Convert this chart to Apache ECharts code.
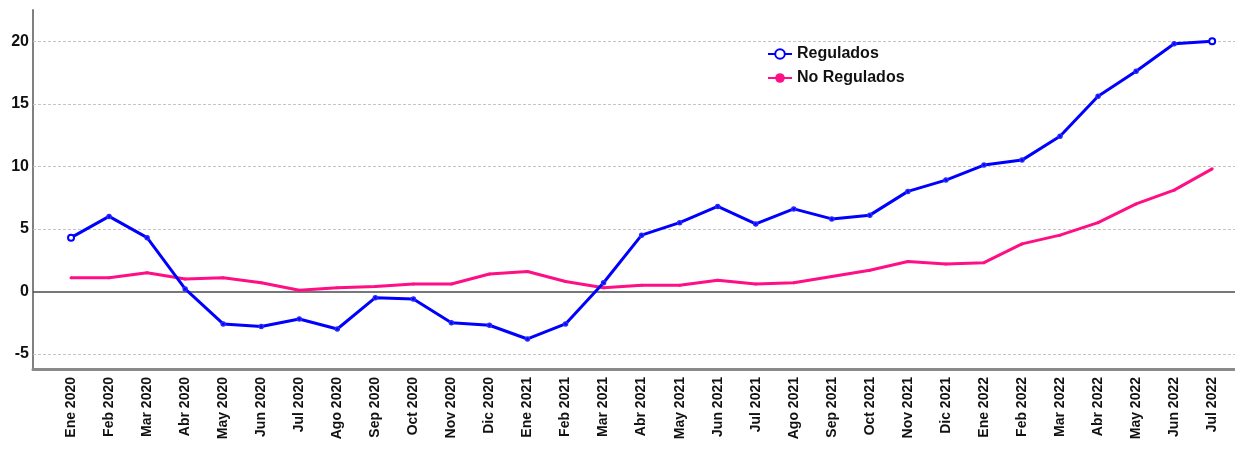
<!DOCTYPE html>
<html>
<head>
<meta charset="utf-8">
<script src="https://cdn.jsdelivr.net/npm/echarts@6/dist/echarts.min.js"></script>
<style>html,body{margin:0;padding:0;background:#fff;}#c{width:1235px;height:467px;}</style>
</head>
<body>
<div id="c"></div>
<script>
const categories = ["Ene 2020","Feb 2020","Mar 2020","Abr 2020","May 2020","Jun 2020","Jul 2020","Ago 2020","Sep 2020","Oct 2020","Nov 2020","Dic 2020",
  "Ene 2021","Feb 2021","Mar 2021","Abr 2021","May 2021","Jun 2021","Jul 2021","Ago 2021","Sep 2021","Oct 2021","Nov 2021","Dic 2021",
  "Ene 2022","Feb 2022","Mar 2022","Abr 2022","May 2022","Jun 2022","Jul 2022"];
const regulados = [4.3,6.0,4.3,0.2,-2.6,-2.8,-2.2,-3.0,-0.5,-0.6,-2.5,-2.7,-3.8,-2.6,0.7,4.5,5.5,6.8,5.4,6.6,5.8,6.1,8.0,8.9,10.1,10.5,12.4,15.6,17.6,19.8,20.0];
const noRegulados = [1.1,1.1,1.5,1.0,1.1,0.7,0.1,0.3,0.4,0.6,0.6,1.4,1.6,0.8,0.3,0.5,0.5,0.9,0.6,0.7,1.2,1.7,2.4,2.2,2.3,3.8,4.5,5.5,7.0,8.1,9.8];
const yTicks = [-5,0,5,10,15,20];
const gridValues = [-5,5,10,15,20];

const chart = echarts.init(document.getElementById('c'));
const font = 'Liberation Sans, Arial, sans-serif';
const lastIdx = regulados.length - 1;
chart.setOption({
  animation: false,
  backgroundColor: '#ffffff',
  grid: {left: 33, right: 0, top: 10, bottom: 98, containLabel: false},
  legend: {
    orient: 'vertical', left: 762, top: 41, itemGap: 8, itemWidth: 24, itemHeight: 12,
    textStyle: {fontFamily: font, fontWeight: 'bold', fontSize: 16, color: '#111'},
    data: ['Regulados', 'No Regulados']
  },
  xAxis: {
    type: 'value', min: -1, max: 30.6, interval: 1,
    axisLine: {show: true, onZero: false, lineStyle: {color: '#8a8a8a', width: 3}},
    axisTick: {show: false},
    splitLine: {show: false},
    axisLabel: {
      rotate: 90, margin: 8, color: '#111', fontFamily: font, fontWeight: 'bold', fontSize: 14,
      formatter: v => (Number.isInteger(v) && categories[v]) ? categories[v] : ''
    }
  },
  yAxis: {
    type: 'value', min: -6.2, max: 22.5,
    axisLine: {show: true, onZero: false, lineStyle: {color: '#808080', width: 2}},
    axisTick: {show: false},
    splitLine: {show: false},
    axisLabel: {customValues: yTicks, margin: 4, color: '#111', fontFamily: font, fontWeight: 'bold', fontSize: 16}
  },
  series: [
    {
      name: 'grid', type: 'line', data: [], z: 1, silent: true,
      markLine: {
        silent: true, symbol: 'none', animation: false, z: 1,
        label: {show: false},
        data: gridValues.map(v => ({yAxis: v, lineStyle: {color: '#c4c4c4', type: [3, 2], width: 1}}))
          .concat([{yAxis: 0, lineStyle: {color: '#4a4a4a', type: 'solid', width: 1.5}}])
      }
    },
    {
      name: 'No Regulados', type: 'line',
      data: noRegulados.map((v, i) => [i, v]),
      symbol: 'circle', symbolSize: 3, showSymbol: true,
      lineStyle: {color: '#ff0f85', width: 3},
      itemStyle: {color: '#ff0f85'},
      z: 2
    },
    {
      name: 'Regulados', type: 'line',
      data: regulados.map((v, i) => (i === 0 || i === lastIdx)
        ? {value: [i, v], symbolSize: 6}
        : {value: [i, v], symbol: 'circle', symbolSize: 4}),
      symbol: 'emptyCircle', symbolSize: 6, showSymbol: true,
      lineStyle: {color: '#0000ff', width: 3},
      itemStyle: {color: '#0000ff', borderColor: '#2a2aff', borderWidth: 1.5},
      z: 3
    }
  ]
});
</script>
</body>
</html>
